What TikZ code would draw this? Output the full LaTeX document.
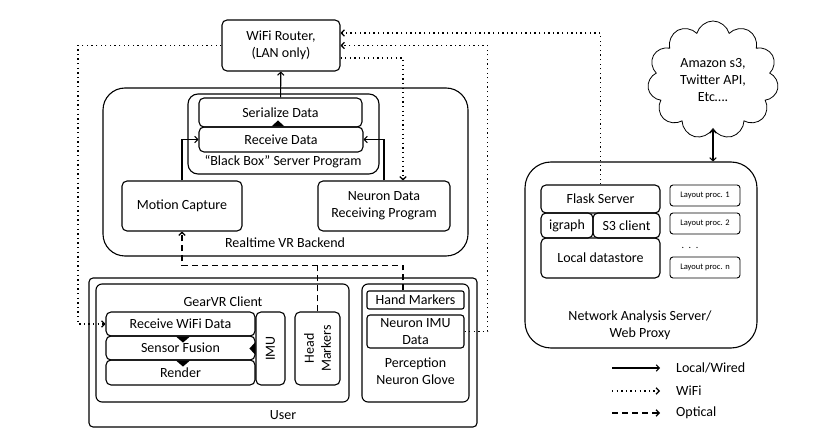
\documentclass[tikz,border=0pt]{standalone}
\usepackage{fontspec}
\setmainfont{Carlito}
\usetikzlibrary{arrows.meta,calc,positioning,shapes.symbols}

\begin{document}
\begin{tikzpicture}[x=1pt, y=-1pt,
    every node/.style={font=\fontsize{14}{17}\selectfont, inner sep=0pt},
    >={Straight Barb[length=3pt,width=6.5pt]},
    box/.style={draw, line width=1.1pt, rounded corners=5pt, align=center},
    panel/.style={box, rounded corners=#1}, panel/.default=6pt,
    lbl/.style={align=center},
    wired/.style={->, line width=1.1pt},
    wifi/.style={->, line width=1.3pt, dash pattern=on 1.3pt off 3.3pt},
    optical/.style={->, line width=1.3pt, dash pattern=on 6pt off 4pt},
    tiny/.style={box, line width=0.9pt, rounded corners=3pt, font=\fontsize{8.5}{10}\selectfont}]
    \useasboundingbox (0,0) rectangle (817,438);

    % router and backend
    \node[box, minimum width=118pt, minimum height=51pt] (router) at (281,45.5) {WiFi Router,\\(LAN only)};
    \node[panel=22pt, minimum width=365pt, minimum height=168pt] (backend) at (285.5,172) {};
    \node[lbl] (backendlbl) at (285,243) {Realtime VR Backend};
    \node[panel=10pt, minimum width=191pt, minimum height=80pt] (blackbox) at (283.5,134) {};
    \node[lbl] (blackboxlbl) at (283,162) {“Black Box” Server Program};
    \node[box, minimum width=163pt, minimum height=29pt] (serialize) at (280.5,112.5) {Serialize Data};
    \node[box, minimum width=164pt, minimum height=25pt] (receive) at (281,139.5) {Receive Data};
    \node[box, minimum width=120pt, minimum height=50pt] (motion) at (182,206) {Motion Capture};
    \node[box, minimum width=132pt, minimum height=50pt] (neuronrx) at (384,206) {Neuron Data\\Receiving Program};

    % user side
    \node[panel=4pt, minimum width=388pt, minimum height=149pt] (user) at (283,352.5) {};
    \node[lbl] (userlbl) at (283,415) {User};
    \node[panel, minimum width=253pt, minimum height=118pt] (gearvr) at (222.5,343) {};
    \node[lbl] (gearvrlbl) at (223,302) {GearVR Client};
    \node[box, minimum width=149pt, minimum height=24pt] (rxwifi) at (180.5,324) {Receive WiFi Data};
    \node[box, minimum width=149pt, minimum height=24pt] (fusion) at (180.5,348) {Sensor Fusion};
    \node[box, minimum width=149pt, minimum height=25pt] (render) at (180.5,372.5) {Render};
    \node[box, minimum width=29pt, minimum height=73pt] (imu) at (270.5,348.5) {};
    \node[rotate=90] (imulbl) at (imu.center) {IMU};
    \node[box, minimum width=45pt, minimum height=73pt] (head) at (317.5,348.5) {};
    \node[rotate=90, lbl] (headlbl) at (head.center) {Head\\Markers};
    \node[panel, minimum width=107pt, minimum height=118pt] (glove) at (415.5,343) {};
    \node[lbl] (glovelbl) at (415.5,371) {Perception\\Neuron Glove};
    \node[box, rounded corners=2pt, minimum width=97pt, minimum height=18pt] (hand) at (415.5,300) {Hand Markers};
    \node[box, rounded corners=3pt, minimum width=97pt, minimum height=33pt] (nimu) at (415.5,331.5) {Neuron IMU\\Data};

    % analysis server
    \node[cloud, draw, line width=0.8pt, cloud puffs=11, cloud ignores aspect, minimum width=131pt, minimum height=118pt, lbl] (cloud) at (713,80) {Amazon s3,\\Twitter API,\\Etc….};
    \node[panel=26pt, minimum width=232pt, minimum height=186pt] (server) at (641,255) {};
    \node[lbl] (serverlbl) at (640,325) {Network Analysis Server/\\Web Proxy};
    \node[box, minimum width=119pt, minimum height=28pt] (flask) at (600.5,199) {Flask Server};
    \node[box, minimum width=52pt, minimum height=25pt] (igraph) at (567,225.5) {igraph};
    \node[box, minimum width=67pt, minimum height=25pt] (sthree) at (626.5,225.5) {S3 client};
    \node[box, minimum width=119pt, minimum height=40pt] (store) at (600.5,258) {Local datastore};
    \node[tiny, minimum width=70pt, minimum height=21pt] (lpone) at (705,195.5) {Layout proc. 1};
    \node[tiny, minimum width=70pt, minimum height=21pt] (lptwo) at (705,223.5) {Layout proc. 2};
    \node[font=\fontsize{10}{12}\selectfont] (lpdots) at (690,248) {.\ \ .\ \ .};
    \node[tiny, minimum width=70pt, minimum height=21pt] (lpn) at (705,267.5) {Layout proc. n};

    % notches
    \fill ([xshift=-9.5pt]receive.north) -- ([xshift=3.5pt]receive.north) -- ([xshift=-3pt,yshift=6pt]receive.north) -- cycle;
    \foreach \n in {rxwifi,fusion}
      \fill ([xshift=-4.5pt]\n.south) -- ([xshift=9.5pt]\n.south) -- ([xshift=2.5pt,yshift=-6pt]\n.south) -- cycle;
    \fill ([yshift=6.5pt]imu.west) -- ([yshift=-6.5pt]imu.west) -- ([xshift=-6pt]imu.west) -- cycle;

    % wired
    \draw[wired] (serialize) -- (router);
    \draw[wired] (motion.north) |- (receive.west);
    \draw[wired] (neuronrx.north) |- (receive.east);
    \draw[wired, <->] (cloud.south) -- (cloud.south |- server.north);

    % wifi
    \coordinate (wleft) at (78,45.5);
    \draw[wifi] (router.west) -- (wleft) |- (rxwifi.west);
    \draw[wifi] (flask.north) |- ([yshift=12.5pt]router.east);
    \draw[wifi] (nimu.east) -- ++(23,0) |- (router.east);
    \draw[wifi] ([yshift=-12.5pt]router.east) -| ([xshift=19pt]neuronrx.north);

    % optical
    \coordinate (ojoin) at (182,265.5);
    \draw[optical] ([xshift=-12.5pt]hand.north) |- (ojoin) -- (motion.south);
    \draw[optical, -] (head.north) -- (head.north |- ojoin);

    % legend
    \coordinate (lgwiredS) at (612,368); \coordinate (lgwiredE) at (660,368);
    \coordinate (lgwifiS) at (612,391); \coordinate (lgwifiE) at (660,391);
    \coordinate (lgoptS) at (612,413); \coordinate (lgoptE) at (660,413);
    \draw[wired] (lgwiredS) -- (lgwiredE);
    \draw[wifi] (lgwifiS) -- (lgwifiE);
    \draw[optical] (lgoptS) -- (lgoptE);
    \node[anchor=west] (lgwired) at (676,368) {Local/Wired};
    \node[anchor=west] (lgwifi) at (676,391) {WiFi};
    \node[anchor=west] (lgopt) at (676,413) {Optical};
  \end{tikzpicture}
\end{document}
